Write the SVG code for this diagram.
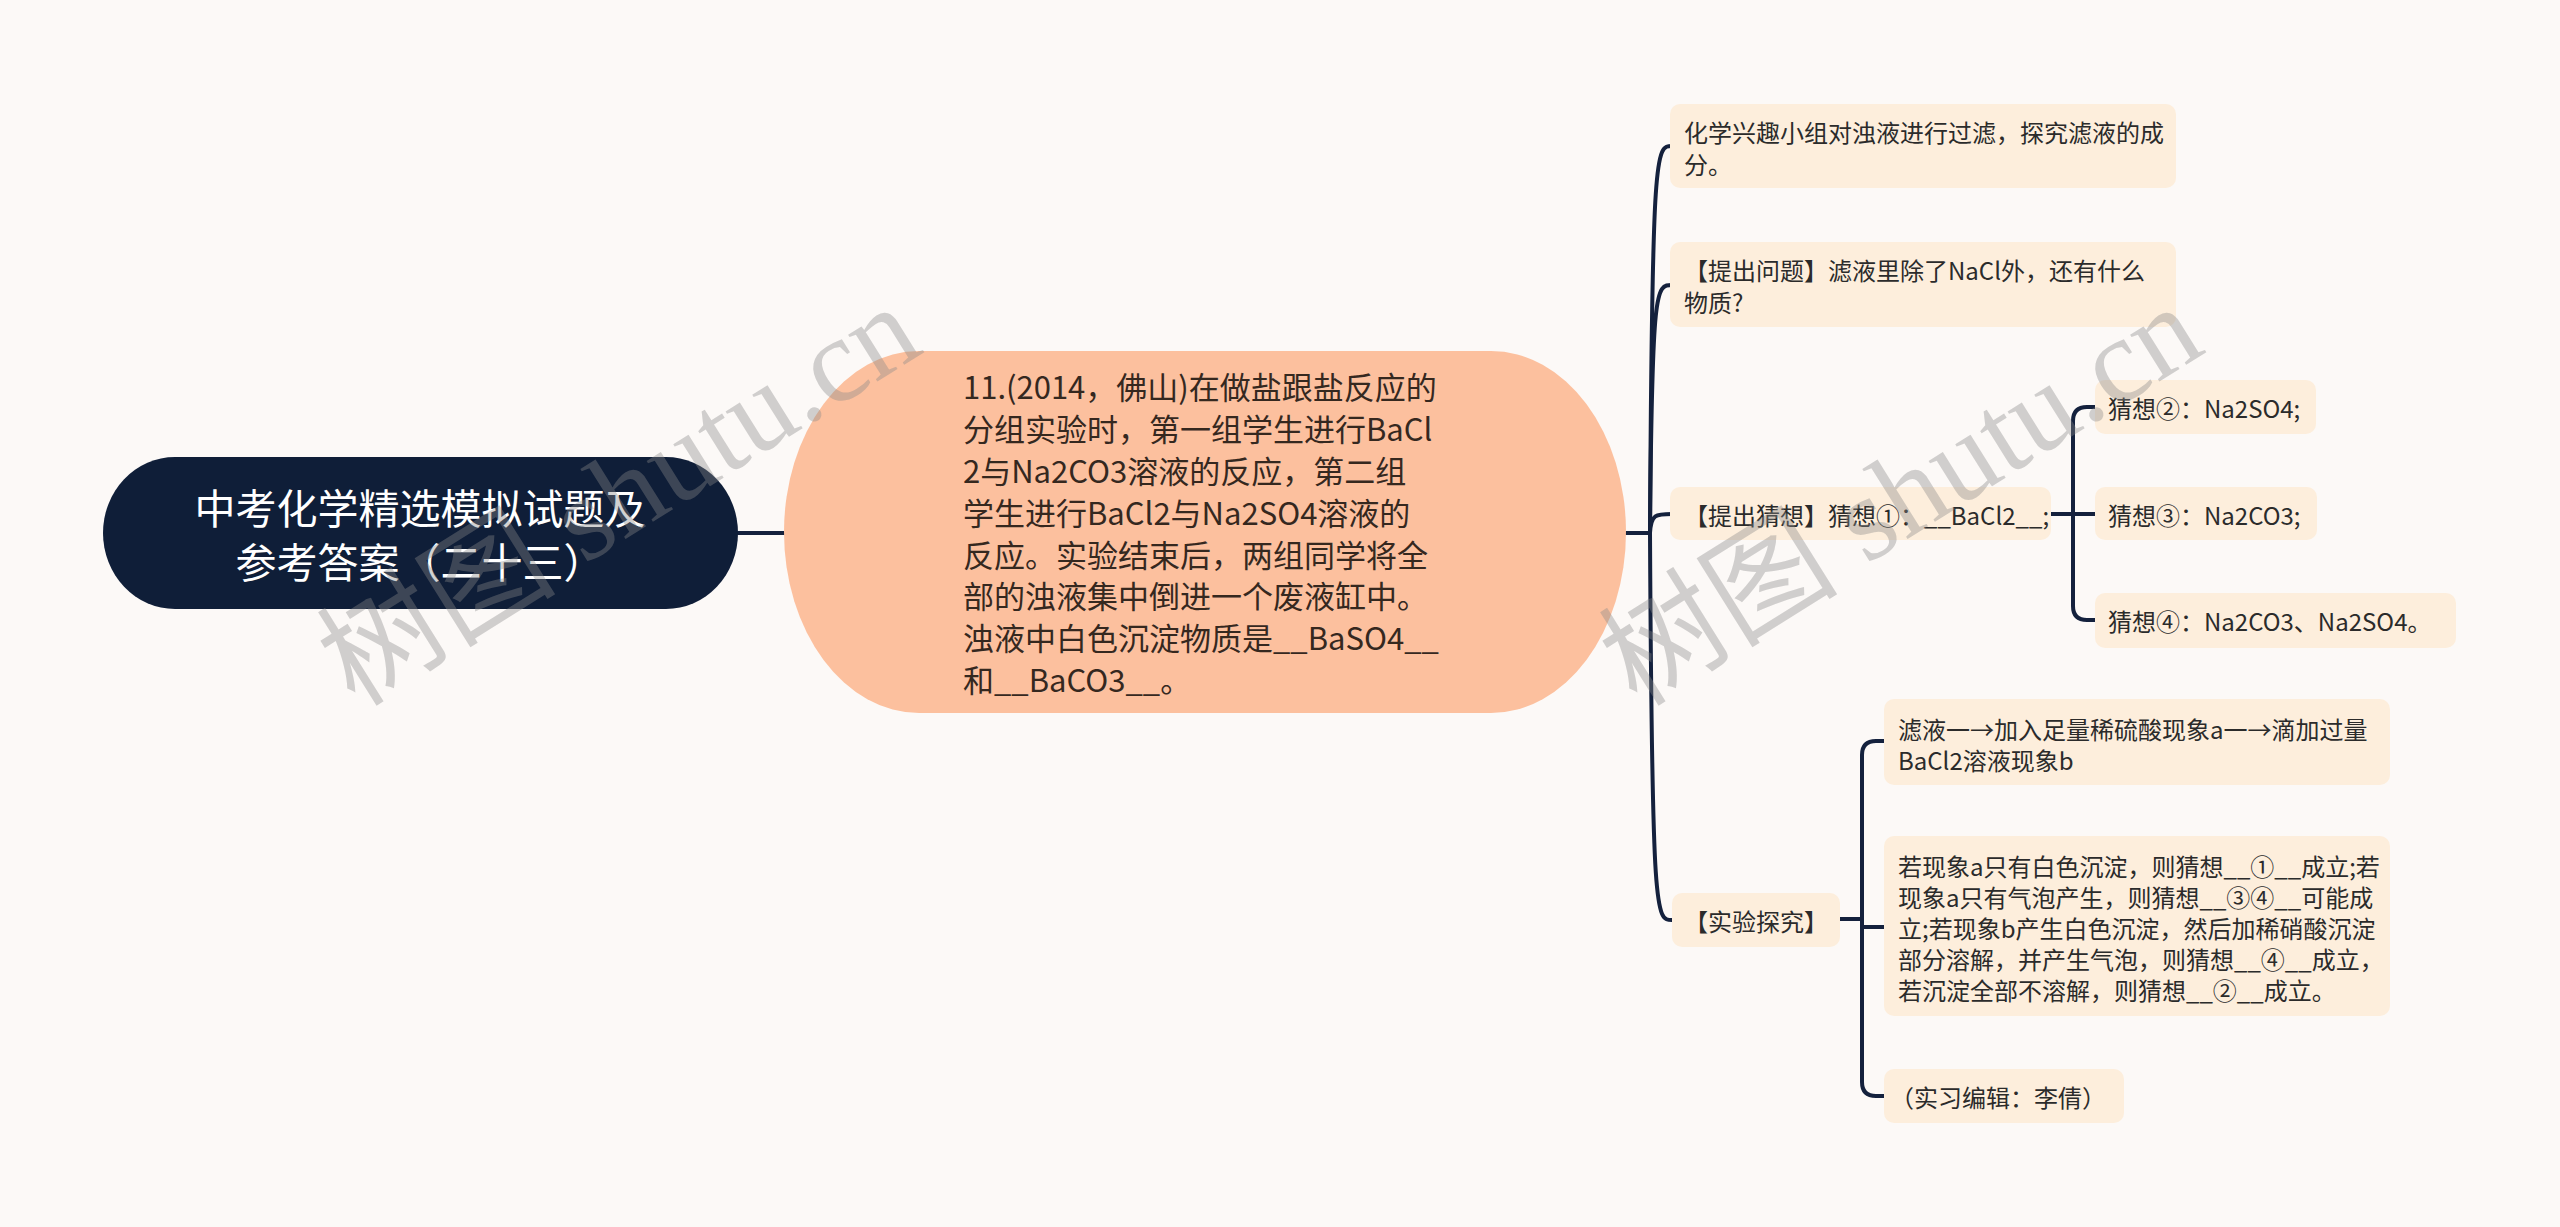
<svg xmlns="http://www.w3.org/2000/svg" width="2560" height="1227" viewBox="0 0 2560 1227">
<style>
.t{font-family:"Noto Sans CJK SC","Noto Sans",sans-serif;dominant-baseline:central}
.root{fill:#0f1e38}
.rt{fill:#ffffff;font-size:41px;text-anchor:middle}
.main{fill:#fcc09e}
.mt{fill:#35281f;font-size:31px}
.box{fill:#fdeedc}
.bt{fill:#2b2b2b;font-size:24px}
.ln{fill:none;stroke:#14213d;stroke-width:4;stroke-linecap:round}
.wm{font-family:"Liberation Serif","Noto Sans CJK SC",serif;font-size:120px;fill:#8a8a8a;fill-opacity:0.38}
</style>
<rect x="0" y="0" width="2560" height="1227" fill="#fcf9f7"/>

<g id="connectors">
<path class="ln" d="M738 533 H784"/>
<path class="ln" d="M1626 533 H1650"/>
<path class="ln" d="M1650 533 C1652 146, 1656 146, 1672 146"/>
<path class="ln" d="M1650 533 C1652 285, 1656 285, 1672 285"/>
<path class="ln" d="M1650 533 C1651 514, 1656 514, 1672 514"/>
<path class="ln" d="M1650 533 C1652 920, 1656 920, 1672 920"/>
<path class="ln" d="M2051 514 H2095"/>
<path class="ln" d="M2095 407 H2087 Q2073 407 2073 421 V606 Q2073 620 2087 620 H2095"/>
<path class="ln" d="M1840 919 H1862"/>
<path class="ln" d="M1884 741 H1876 Q1862 741 1862 755 V1082 Q1862 1096 1876 1096 H1884"/>
<path class="ln" d="M1862 927 H1884"/>
</g>

<g id="root">
<rect class="root" x="103" y="457" width="635" height="152" rx="72" ry="76"/>
<text class="t rt" x="420" y="506">中考化学精选模拟试题及</text>
<text class="t rt" x="420" y="560">参考答案（二十三）</text>
</g>

<g id="main">
<rect class="main" x="784" y="351" width="842" height="362" rx="135" ry="181"/>
<text class="t mt" x="963" y="385">11.(2014，佛山)在做盐跟盐反应的</text>
<text class="t mt" x="963" y="427">分组实验时，第一组学生进行BaCl</text>
<text class="t mt" x="963" y="469">2与Na2CO3溶液的反应，第二组</text>
<text class="t mt" x="963" y="511">学生进行BaCl2与Na2SO4溶液的</text>
<text class="t mt" x="963" y="553">反应。实验结束后，两组同学将全</text>
<text class="t mt" x="963" y="594">部的浊液集中倒进一个废液缸中。</text>
<text class="t mt" x="963" y="636">浊液中白色沉淀物质是__BaSO4__</text>
<text class="t mt" x="963" y="678">和__BaCO3__。</text>
</g>

<g id="n1">
<rect class="box" x="1670" y="104" width="506" height="84" rx="10"/>
<text class="t bt" x="1684" y="131">化学兴趣小组对浊液进行过滤，探究滤液的成</text>
<text class="t bt" x="1684" y="163">分。</text>
</g>

<g id="n2">
<rect class="box" x="1670" y="242" width="506" height="85" rx="10"/>
<text class="t bt" x="1684" y="269">【提出问题】滤液里除了NaCl外，还有什么</text>
<text class="t bt" x="1684" y="301">物质?</text>
</g>

<g id="n3">
<rect class="box" x="1670" y="487" width="381" height="53" rx="10"/>
<text class="t bt" x="1684" y="514">【提出猜想】猜想①：__BaCl2__;</text>
</g>

<g id="n3a">
<rect class="box" x="2095" y="380" width="221" height="54" rx="10"/>
<text class="t bt" x="2108" y="407">猜想②：Na2SO4;</text>
</g>

<g id="n3b">
<rect class="box" x="2095" y="487" width="222" height="53" rx="10"/>
<text class="t bt" x="2108" y="514">猜想③：Na2CO3;</text>
</g>

<g id="n3c">
<rect class="box" x="2095" y="593" width="361" height="55" rx="10"/>
<text class="t bt" x="2108" y="620">猜想④：Na2CO3、Na2SO4。</text>
</g>

<g id="n4">
<rect class="box" x="1672" y="893" width="168" height="54" rx="10"/>
<text class="t bt" x="1684" y="920">【实验探究】</text>
</g>

<g id="n4a">
<rect class="box" x="1884" y="699" width="506" height="86" rx="10"/>
<text class="t bt" x="1898" y="728">滤液一→加入足量稀硫酸现象a一→滴加过量</text>
<text class="t bt" x="1898" y="759">BaCl2溶液现象b</text>
</g>

<g id="n4b">
<rect class="box" x="1884" y="836" width="506" height="180" rx="10"/>
<text class="t bt" x="1898" y="865">若现象a只有白色沉淀，则猜想__①__成立;若</text>
<text class="t bt" x="1898" y="896">现象a只有气泡产生，则猜想__③④__可能成</text>
<text class="t bt" x="1898" y="927">立;若现象b产生白色沉淀，然后加稀硝酸沉淀</text>
<text class="t bt" x="1898" y="958">部分溶解，并产生气泡，则猜想__④__成立，</text>
<text class="t bt" x="1898" y="989">若沉淀全部不溶解，则猜想__②__成立。</text>
</g>

<g id="n4c">
<rect class="box" x="1884" y="1069" width="240" height="54" rx="10"/>
<text class="t bt" x="1890" y="1096">（实习编辑：李倩）</text>
</g>

<g id="watermark">
<text class="wm" transform="translate(355 708) rotate(-32)">树图 shutu.cn</text>
<text class="wm" transform="translate(1637 708) rotate(-32)">树图 shutu.cn</text>
</g>
</svg>
